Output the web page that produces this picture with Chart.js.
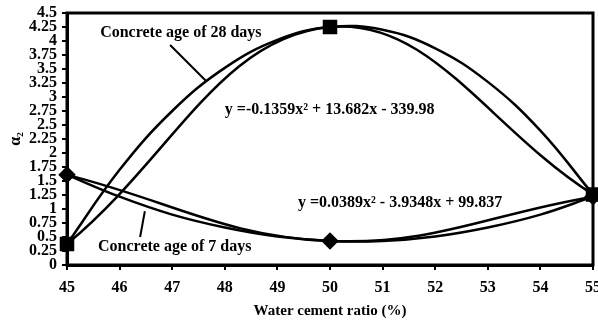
<!DOCTYPE html>
<html>
<head>
<meta charset="utf-8">
<script src="https://cdn.jsdelivr.net/npm/chart.js@4.4.0/dist/chart.umd.min.js"></script>
<style>
  html, body { margin: 0; padding: 0; background: #fff; }
</style>
</head>
<body>
<canvas id="myChart"></canvas>
<script>
// measured points (water cement ratio %)
var ratios = [45, 50, 55];
var age28 = [0.375, 4.25, 1.26];
var age7 = [1.61, 0.43, 1.22];

// polynomial trend lines at each integer ratio
var trendX = [45, 46, 47, 48, 49, 50, 51, 52, 53, 54, 55];
var trend28 = [0.375, 1.70, 2.75, 3.52, 4.02, 4.25, 4.20, 3.87, 3.27, 2.40, 1.26];
var trend7 = [1.61, 1.22, 0.90, 0.67, 0.51, 0.43, 0.43, 0.51, 0.67, 0.90, 1.22];

var xTickLabels = ['45', '46', '47', '48', '49', '50', '51', '52', '53', '54', '55'];
var yTickLabels = ['0', '0.25', '0.5', '0.75', '1', '1.25', '1.5', '1.75', '2', '2.25', '2.5',
  '2.75', '3', '3.25', '3.5', '3.75', '4', '4.25', '4.5'];

var eq28 = 'y =-0.1359x\u00B2 + 13.682x - 339.98';
var eq7 = 'y =0.0389x\u00B2 - 3.9348x + 99.837';


function pairs(xs, ys) {
  var out = [];
  for (var i = 0; i < xs.length; i++) {
    out.push({x: xs[i], y: ys[i]});
  }
  return out;
}

// text labels and leader lines, placed in data units
var notes = [
  {text: 'Concrete age of 28 days', x: 45.63, y: 4.14},
  {text: 'Concrete age of 7 days', x: 45.59, y: 0.32},
  {text: eq28, x: 48.0, y: 2.77},
  {text: eq7, x: 49.39, y: 1.11}
];
var leaders = [
  [46.96, 3.93, 47.64, 3.29],
  [46.48, 0.96, 46.39, 0.50]
];

var extras = {
  id: 'extras',
  afterDatasetsDraw: function(chart) {
    var c = chart.ctx;
    var xs = chart.scales.x, ys = chart.scales.y;
    c.save();
    c.fillStyle = '#000';
    c.strokeStyle = '#000';
    c.font = 'bold 16px "Liberation Serif", serif';
    c.textBaseline = 'middle';
    c.textAlign = 'left';
    notes.forEach(function(n) {
      c.fillText(n.text, xs.getPixelForValue(n.x), ys.getPixelForValue(n.y));
    });
    c.lineWidth = 2;
    leaders.forEach(function(l) {
      c.beginPath();
      c.moveTo(xs.getPixelForValue(l[0]), ys.getPixelForValue(l[1]));
      c.lineTo(xs.getPixelForValue(l[2]), ys.getPixelForValue(l[3]));
      c.stroke();
    });
    c.restore();
  },
  afterDraw: function(chart) {
    var a = chart.chartArea;
    var c = chart.ctx;
    c.save();
    c.strokeStyle = '#000';
    c.lineWidth = 3;
    c.strokeRect(a.left, a.top, a.right - a.left, a.bottom - a.top);
    c.restore();
  }
};


var canvas = document.getElementById('myChart');
canvas.width = 598;
canvas.height = 327;
var ctx = canvas.getContext('2d');

Chart.defaults.font.family = '"Liberation Serif", "Times New Roman", serif';
Chart.defaults.font.weight = 'bold';
Chart.defaults.font.size = 14;
Chart.defaults.color = '#000';

var myChart = new Chart(ctx, {
  type: 'scatter',
  data: {
    datasets: [
      {
        label: 'trend 28',
        data: pairs(trendX, trend28),
        showLine: true,
        borderColor: '#000',
        borderWidth: 2.5,
        pointRadius: 0,
        tension: 0.4,
        clip: false
      },
      {
        label: 'trend 7',
        data: pairs(trendX, trend7),
        showLine: true,
        borderColor: '#000',
        borderWidth: 2.5,
        pointRadius: 0,
        tension: 0.4,
        clip: false
      },
      {
        label: 'Concrete age of 28 days',
        data: pairs(ratios, age28),
        showLine: true,
        borderColor: '#000',
        borderWidth: 2.5,
        tension: 0.4,
        pointStyle: 'rect',
        pointRadius: 8.5,
        pointBackgroundColor: '#000',
        pointBorderColor: '#000',
        clip: false
      },
      {
        label: 'Concrete age of 7 days',
        data: pairs(ratios, age7),
        showLine: true,
        borderColor: '#000',
        borderWidth: 2.5,
        tension: 0.4,
        pointStyle: 'rectRot',
        pointRadius: 7,
        pointBackgroundColor: '#000',
        pointBorderColor: '#000',
        clip: false
      }
    ]
  },
  options: {
    responsive: false,
    animation: false,
    layout: {autoPadding: false, padding: {left: 0, right: 5, top: 13, bottom: 0}},
    plugins: {
      legend: {display: false},
      tooltip: {enabled: false}
    },
    scales: {
      x: {
        type: 'linear',
        min: 45,
        max: 55,
        afterBuildTicks: function(scale) {
          scale.ticks = xTickLabels.map(function(t) { return {value: parseFloat(t)}; });
        },
        afterFit: function(scale) {
          scale.height = 62;
          scale.paddingLeft = 0;
          scale.paddingRight = 0;
        },
        ticks: {
          padding: 8,
          maxRotation: 0,
          autoSkip: false,
          font: {size: 16},
          callback: function(v, i) { return xTickLabels[i]; }
        },
        grid: {drawOnChartArea: false, drawTicks: true, tickLength: 5, color: '#000', lineWidth: 2},
        border: {display: true, color: '#000', width: 3},
        title: {
          display: true,
          text: 'Water cement ratio (%)',
          font: {size: 15},
          padding: {top: 0, bottom: 7}
        }
      },
      y: {
        type: 'linear',
        min: 0,
        max: 4.5,
        afterBuildTicks: function(scale) {
          scale.ticks = yTickLabels.map(function(t) { return {value: parseFloat(t)}; });
        },
        afterFit: function(scale) {
          scale.width = 67;
          scale.paddingTop = 0;
          scale.paddingBottom = 0;
        },
        ticks: {
          padding: 5,
          autoSkip: false,
          font: {size: 16},
          callback: function(v, i) { return yTickLabels[i]; }
        },
        grid: {drawOnChartArea: false, drawTicks: true, tickLength: 5, color: '#000', lineWidth: 2},
        border: {display: true, color: '#000', width: 3},
        title: {
          display: true,
          text: '\u03B1\u2082',
          font: {size: 16},
          padding: {top: 6, bottom: 0}
        }
      }
    }
  },
  plugins: [extras]
});
</script>
</body>
</html>
